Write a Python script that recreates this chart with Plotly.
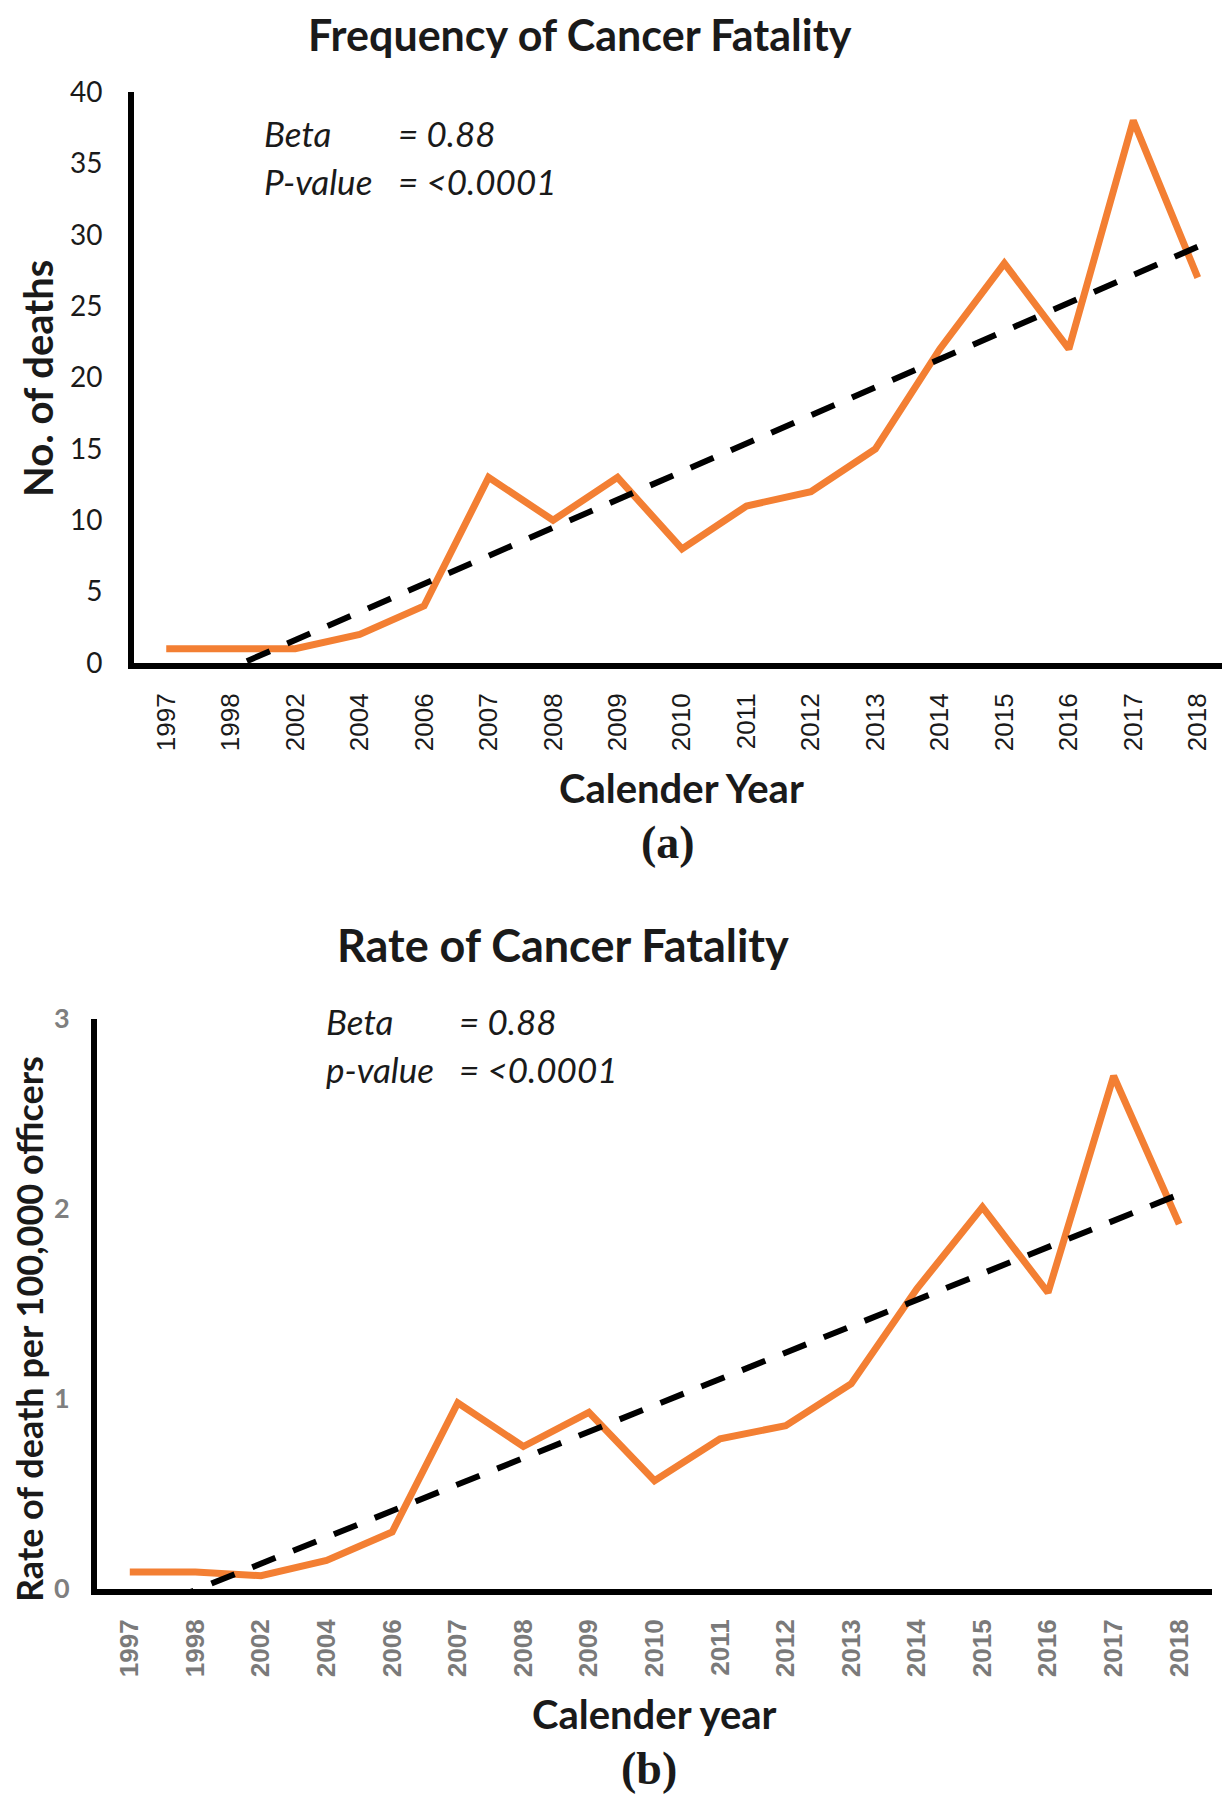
import numpy as np
import plotly.graph_objects as go

# ---------------- data ----------------
years = ["1997", "1998", "2002", "2004", "2006", "2007", "2008", "2009", "2010",
         "2011", "2012", "2013", "2014", "2015", "2016", "2017", "2018"]
deaths = [1, 1, 1, 2, 4, 13, 10, 13, 8, 11, 12, 15, 22, 28, 22, 38, 27]
rates = [0.09, 0.09, 0.07, 0.15, 0.30, 0.98, 0.75, 0.93, 0.57, 0.79, 0.86,
         1.08, 1.58, 2.01, 1.56, 2.70, 1.92]
yticks_a = [0, 5, 10, 15, 20, 25, 30, 35, 40]
yticks_b = [0, 1, 2, 3]

# ---------------- helpers ----------------
# the page body has an 8px default margin; the figure is sized to fit the window
OFF = 8
W, H = 1230 - OFF, 1800 - OFF


def px(x):
    return (x - OFF) / W


def py(y):
    return 1 - (y - OFF) / H


ORANGE = "#F37F33"
DASH = "25px,19px"
idx = np.arange(len(years))
fit_a = np.polyval(np.polyfit(idx, deaths, 1), idx)
fit_b = np.polyval(np.polyfit(idx, rates, 1), idx)

fig = go.Figure()
fig.add_trace(go.Scatter(x=years, y=deaths, xaxis="x", yaxis="y", mode="lines",
                         line=dict(color=ORANGE, width=7), showlegend=False))
fig.add_trace(go.Scatter(x=years, y=fit_a, xaxis="x", yaxis="y", mode="lines",
                         line=dict(color="black", width=6, dash=DASH), showlegend=False))
fig.add_trace(go.Scatter(x=years, y=rates, xaxis="x2", yaxis="y2", mode="lines",
                         line=dict(color=ORANGE, width=7), showlegend=False))
fig.add_trace(go.Scatter(x=years, y=fit_b, xaxis="x2", yaxis="y2", mode="lines",
                         line=dict(color="black", width=6, dash=DASH), showlegend=False))

common_x = dict(type="category", range=[-0.5, len(years) - 0.5], showline=True,
                linecolor="black", linewidth=6, showgrid=False, zeroline=False,
                tickangle=-90, ticks="", automargin=False, ticklabelstandoff=14)
common_y = dict(showline=True, linecolor="black", linewidth=6, showgrid=False,
                zeroline=False, ticks="", automargin=False)

fig.update_layout(
    width=W, height=H,
    margin=dict(l=0, r=0, t=0, b=0),
    paper_bgcolor="white", plot_bgcolor="white",
    xaxis=dict(common_x, domain=[px(134), 1.0], anchor="y",
               tickfont=dict(family="Liberation Sans", size=26, color="#1a1a1a")),
    yaxis=dict(common_y, domain=[py(663), py(92)], anchor="x", range=[0, 40],
               tickvals=yticks_a,
               tickfont=dict(family="Lato", size=28, color="#1a1a1a"),
               ticklabelstandoff=20),
    xaxis2=dict(common_x, domain=[px(97), px(1212)], anchor="y2",
                tickfont=dict(family="Liberation Sans", size=26, color="#7a7a7a",
                              weight="bold")),
    yaxis2=dict(common_y, domain=[py(1589), py(1019)], anchor="x2", range=[0, 3],
                tickvals=yticks_b,
                tickfont=dict(family="Lato", size=27, color="#7f7f7f", weight="bold"),
                ticklabelstandoff=16),
)

ann = []


def add_text(text, x, y, size, family="Lato", bold=False, italic=False, angle=0,
             xanchor="center", color="#1a1a1a"):
    ann.append(dict(text=text, x=px(x), y=py(y), xref="paper", yref="paper",
                    showarrow=False, xanchor=xanchor, yanchor="middle", textangle=angle,
                    font=dict(family=family, size=size, color=color,
                              weight="bold" if bold else "normal",
                              style="italic" if italic else "normal")))


# panel (a)
add_text("Frequency of Cancer Fatality", 580, 34, 43, bold=True)
add_text("No. of deaths", 38, 379, 40, bold=True, angle=-90)
add_text("Calender Year", 681, 788, 40, bold=True)
add_text("(a)", 668, 842, 46, family="Liberation Serif", bold=True)
add_text("Beta", 262, 133, 35, italic=True, xanchor="left")
add_text("= 0.88", 396, 133, 35, italic=True, xanchor="left")
add_text("P-value", 262, 181, 35, italic=True, xanchor="left")
add_text("= <0.0001", 396, 181, 35, italic=True, xanchor="left")

# panel (b)
add_text("Rate of death per 100,000 officers", 29, 1329, 36, bold=True, angle=-90)
add_text("Rate of Cancer Fatality", 563, 945, 45, bold=True)
add_text("Calender year", 654, 1714, 40, bold=True)
add_text("(b)", 649, 1768, 46, family="Liberation Serif", bold=True)
add_text("Beta", 324, 1021, 35, italic=True, xanchor="left")
add_text("= 0.88", 457, 1021, 35, italic=True, xanchor="left")
add_text("p-value", 324, 1069, 35, italic=True, xanchor="left")
add_text("= <0.0001", 457, 1069, 35, italic=True, xanchor="left")

fig.update_layout(annotations=ann)
fig.write_html("out.html")
